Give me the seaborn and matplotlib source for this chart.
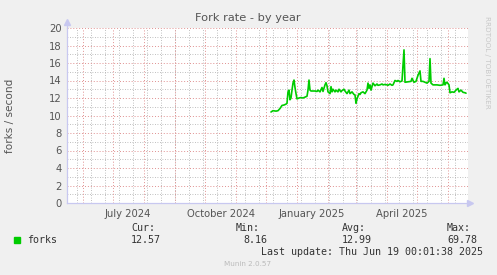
import matplotlib
matplotlib.use("Agg")
import matplotlib.pyplot as plt
import matplotlib.dates as mdates
import seaborn as sns
import pandas as pd
import numpy as np

# ---- data ----
dates = [
    "2024-12-06", "2024-12-08", "2024-12-11", "2024-12-13", "2024-12-15", "2024-12-17",
    "2024-12-19", "2024-12-21", "2024-12-22", "2024-12-23", "2024-12-24", "2024-12-25",
    "2024-12-26", "2024-12-27", "2024-12-28", "2024-12-29", "2024-12-30", "2024-12-31",
    "2025-01-01", "2025-01-03", "2025-01-05", "2025-01-07", "2025-01-09", "2025-01-11",
    "2025-01-12", "2025-01-13", "2025-01-14", "2025-01-15", "2025-01-17", "2025-01-19",
    "2025-01-21", "2025-01-22", "2025-01-24", "2025-01-26", "2025-01-27", "2025-01-29",
    "2025-01-30", "2025-01-31", "2025-02-01", "2025-02-03", "2025-02-04", "2025-02-05",
    "2025-02-06", "2025-02-08", "2025-02-09", "2025-02-11", "2025-02-12", "2025-02-14",
    "2025-02-15", "2025-02-17", "2025-02-18", "2025-02-20", "2025-02-22", "2025-02-23",
    "2025-02-25", "2025-02-27", "2025-02-28", "2025-03-01", "2025-03-02", "2025-03-04",
    "2025-03-05", "2025-03-06", "2025-03-08", "2025-03-10", "2025-03-12", "2025-03-13",
    "2025-03-14", "2025-03-15", "2025-03-16", "2025-03-18", "2025-03-20", "2025-03-22",
    "2025-03-23", "2025-03-25", "2025-03-27", "2025-03-28", "2025-03-30", "2025-04-01",
    "2025-04-02", "2025-04-04", "2025-04-06", "2025-04-07", "2025-04-09", "2025-04-11",
    "2025-04-12", "2025-04-14", "2025-04-16", "2025-04-18", "2025-04-19", "2025-04-22",
    "2025-04-25", "2025-04-26", "2025-04-28", "2025-04-30", "2025-05-02", "2025-05-04",
    "2025-05-05", "2025-05-07", "2025-05-09", "2025-05-11", "2025-05-13", "2025-05-14",
    "2025-05-15", "2025-05-17", "2025-05-21", "2025-05-24", "2025-05-27", "2025-05-28",
    "2025-05-29", "2025-05-30", "2025-05-31", "2025-06-02", "2025-06-03", "2025-06-05",
    "2025-06-07", "2025-06-09", "2025-06-11", "2025-06-12", "2025-06-14", "2025-06-16",
    "2025-06-18", "2025-06-19",
]
forks = [
    10.40, 10.55, 10.50, 10.55, 10.80, 11.15,
    11.20, 11.30, 11.40, 12.70, 12.90, 11.80,
    12.00, 12.90, 13.70, 14.05, 13.20, 12.50,
    11.90, 12.00, 12.05, 12.00, 12.10, 12.20,
    12.90, 14.05, 12.90, 12.80, 12.80, 12.80,
    12.75, 12.90, 12.70, 13.20, 12.75, 13.50,
    13.75, 13.40, 12.70, 12.50, 13.30, 12.70,
    13.00, 12.70, 12.90, 12.70, 13.00, 12.70,
    12.85, 13.00, 12.80, 12.50, 12.90, 12.50,
    12.70, 12.40, 12.35, 11.40, 11.90, 12.50,
    12.40, 12.60, 12.70, 12.50, 12.90, 13.70,
    13.10, 13.50, 12.90, 13.70, 13.40, 13.60,
    13.45, 13.50, 13.60, 13.50, 13.55, 13.50,
    13.45, 13.60, 13.45, 13.50, 14.00, 13.90,
    14.00, 13.85, 13.95, 17.50, 13.80, 13.85,
    13.90, 14.25, 13.80, 13.90, 14.60, 15.10,
    13.90, 13.90, 13.80, 13.70, 13.90, 16.50,
    13.70, 13.50, 13.50, 13.45, 13.50, 14.25,
    13.50, 13.70, 13.80, 13.50, 12.60, 12.70,
    12.65, 12.90, 13.10, 12.70, 12.90, 12.65,
    12.60, 12.55,
]
x_tick_dates = ["2024-07-16", "2024-10-17", "2025-01-16", "2025-04-16"]
x_tick_labels = ["July 2024", "October 2024", "January 2025", "April 2025"]
x_range = ["2024-05-16", "2025-06-21"]
y_ticks = list(range(0, 21, 2))

legend_name = "forks"
stat_headers = ["Cur:", "Min:", "Avg:", "Max:"]
stat_values = ["12.57", "8.16", "12.99", "69.78"]

df = pd.DataFrame({"date": pd.to_datetime(dates), "forks": forks})

# ---- style ----
sns.set_theme(style="white")
plt.rcParams["font.family"] = ["DejaVu Sans"]
BG = "#F0F0F0"
TXT = "#555555"
AXC = "#C8C8F0"

fig = plt.figure(figsize=(4.97, 2.75), dpi=100, facecolor=BG)
ax = fig.add_axes([67 / 497, 1 - 203 / 275, (468 - 67) / 497, (203 - 28) / 275])
ax.set_facecolor("white")

sns.lineplot(data=df, x="date", y="forks", ax=ax, color="#00CC00", linewidth=1.2, zorder=5)

x0, x1 = pd.to_datetime(x_range[0]), pd.to_datetime(x_range[1])
ax.set_xlim(x0, x1)
ax.set_ylim(0, 20)

# grid
for v in np.arange(1, 20, 2):
    ax.axhline(v, color="#AAAAAA", lw=0.6, ls=(0, (1, 2)), zorder=1)
for v in y_ticks[1:]:
    ax.axhline(v, color="#E09090", lw=0.7, ls=(0, (1, 2)), zorder=2)
minor = pd.date_range("2024-05-26", x1, freq="14D")
for d in minor:
    ax.axvline(d, color="#AAAAAA", lw=0.6, ls=(0, (1, 2)), zorder=1)
months = pd.date_range("2024-06-01", x1, freq="MS")
for d in months:
    ax.axvline(d, color="#E09090", lw=0.7, ls=(0, (1, 2)), zorder=2)

ax.set_yticks(y_ticks)
ax.set_yticklabels([str(v) for v in y_ticks], color=TXT, fontsize=7.2)
ax.set_xticks(pd.to_datetime(x_tick_dates))
ax.set_xticklabels(x_tick_labels, color=TXT, fontsize=7.2)
ax.tick_params(axis="both", length=0, pad=4)
ax.set_xlabel("")
ax.set_ylabel("forks / second", color=TXT, fontsize=7.6, labelpad=24)

for s in ["top", "right"]:
    ax.spines[s].set_visible(False)
for s in ["left", "bottom"]:
    ax.spines[s].set_color(AXC)
    ax.spines[s].set_linewidth(0.9)

# axis arrows
ax.plot([0], [1.035], marker="^", color=AXC, markersize=4, transform=ax.transAxes, clip_on=False)
ax.plot([1.005], [0], marker=">", color=AXC, markersize=4, transform=ax.transAxes, clip_on=False)
ax.plot([0, 0], [1.0, 1.03], color=AXC, lw=0.9, transform=ax.transAxes, clip_on=False)

fig.text(248 / 497, 1 - 18 / 275, "Fork rate - by year", ha="center", va="center",
         color=TXT, fontsize=8.2)
fig.text(487 / 497, 1 - 16 / 275, "RRDTOOL / TOBI OETIKER", rotation=270, ha="center",
         va="top", color="#C8C8C8", fontsize=5.2)

mono = "DejaVu Sans Mono"
fs = 7.2
fig.patches.append(plt.Rectangle((14 / 497, 1 - 243 / 275), 6 / 497, 6 / 275,
                                 transform=fig.transFigure, color="#00CC00"))
fig.text(27 / 497, 1 - 240 / 275, legend_name, family=mono, fontsize=fs, color="#333333",
         va="center")
hdr_x = [155, 260, 366, 471]
val_x = [161, 267, 372, 477]
for h, hx, v, vx in zip(stat_headers, hdr_x, stat_values, val_x):
    fig.text(hx / 497, 1 - 228 / 275, h, family=mono, fontsize=fs, color="#333333",
             ha="right", va="center")
    fig.text(vx / 497, 1 - 240 / 275, v, family=mono, fontsize=fs, color="#333333",
             ha="right", va="center")
fig.text(483 / 497, 1 - 252 / 275, "Last update: Thu Jun 19 00:01:38 2025", family=mono,
         fontsize=fs, color="#333333", ha="right", va="center")
fig.text(248 / 497, 1 - 264 / 275, "Munin 2.0.57", fontsize=5.2, color="#BBBBBB",
         ha="center", va="center")

fig.savefig("out.png", dpi=100, facecolor=BG)
